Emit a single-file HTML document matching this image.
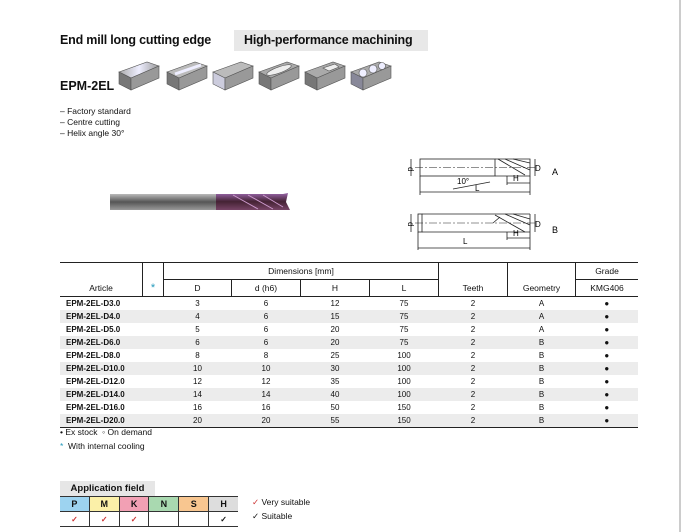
<!DOCTYPE html>
<html><head><meta charset="utf-8"><style>
body{margin:0;width:681px;height:532px;background:#fff;position:relative;overflow:hidden;font-family:"Liberation Sans",sans-serif;color:#111}
.a{position:absolute;white-space:nowrap}
table{position:absolute;left:60px;top:262px;width:578px;border-collapse:collapse;font-size:8px}
td{padding:0;text-align:center;height:13px;line-height:13px}
td.l{text-align:left;padding-left:6px;font-weight:bold}
tr.g td{background:#ececec}
.h td{height:16px;line-height:16px;font-size:8.5px}
.ap td{width:29px;height:14px;border-right:1px solid #333;text-align:center;font-size:9px;font-weight:bold;padding:0}
</style></head><body>
<div style="position:absolute;left:679px;top:0;width:2px;height:532px;background:#ccc"></div>
<div class="a" style="left:60px;top:33px;font-size:12.5px;font-weight:bold;letter-spacing:-0.2px">End mill long cutting edge</div>
<div class="a" style="left:234px;top:30px;width:194px;height:21px;background:#e8e8e8"></div>
<div class="a" style="left:244px;top:33px;font-size:12.5px;font-weight:bold;letter-spacing:-0.2px">High-performance machining</div>
<div class="a" style="left:60px;top:79px;font-size:12.5px;font-weight:bold">EPM-2EL</div>
<svg class="a" style="left:117px;top:58px" width="280" height="36">
<defs><linearGradient id="t" x1="0" x2="1"><stop offset="0" stop-color="#aaa"/><stop offset=".5" stop-color="#eef"/><stop offset="1" stop-color="#999"/></linearGradient></defs>
<g stroke="#555" stroke-width=".6">
<g transform="translate(2,0)"><polygon points="0,14 28,4 40,8 12,20" fill="url(#t)"/><polygon points="0,14 12,20 12,32 0,26" fill="#777"/><polygon points="12,20 40,8 40,20 12,32" fill="#999"/></g>
<g transform="translate(50,0)"><polygon points="0,14 28,4 40,8 12,20" fill="#bbb"/><polygon points="0,14 12,20 12,32 0,26" fill="#777"/><polygon points="12,20 40,8 40,20 12,32" fill="#999"/><path d="M8,16 L34,7" stroke="#eef" stroke-width="3"/></g>
<g transform="translate(96,0)"><polygon points="0,14 28,4 40,8 12,20" fill="#bbb"/><polygon points="0,14 12,20 12,32 0,26" fill="#ccd"/><polygon points="12,20 40,8 40,20 12,32" fill="#999"/></g>
<g transform="translate(142,0)"><polygon points="0,14 28,4 40,8 12,20" fill="#aaa"/><polygon points="0,14 12,20 12,32 0,26" fill="#777"/><polygon points="12,20 40,8 40,20 12,32" fill="#999"/><ellipse cx="20" cy="12" rx="13" ry="3" transform="rotate(-20 20 12)" fill="#eee"/></g>
<g transform="translate(188,0)"><polygon points="0,14 28,4 40,8 12,20" fill="#aaa"/><polygon points="0,14 12,20 12,32 0,26" fill="#777"/><polygon points="12,20 40,8 40,20 12,32" fill="#999"/><polygon points="18,10 30,6 34,9 24,13" fill="#eee"/></g>
<g transform="translate(234,0)"><polygon points="0,14 28,4 40,8 12,20" fill="#aaa"/><polygon points="0,14 12,20 12,32 0,26" fill="#889"/><polygon points="12,20 40,8 40,20 12,32" fill="#999"/><circle cx="12" cy="15" r="4" fill="#eef"/><circle cx="22" cy="11" r="4" fill="#eef"/><circle cx="31" cy="8" r="3.5" fill="#eef"/></g>
</g></svg>
<div class="a" style="left:60px;top:106px;font-size:8.5px;line-height:11px">– Factory standard<br>– Centre cutting<br>– Helix angle 30°</div>
<svg class="a" style="left:108px;top:190px" width="185" height="24">
<defs><linearGradient id="s" x1="0" y1="0" x2="0" y2="1"><stop offset="0" stop-color="#bbb"/><stop offset=".5" stop-color="#555"/><stop offset="1" stop-color="#999"/></linearGradient>
<linearGradient id="c" x1="0" y1="0" x2="0" y2="1"><stop offset="0" stop-color="#96a"/><stop offset=".5" stop-color="#423"/><stop offset="1" stop-color="#746"/></linearGradient></defs>
<rect x="2" y="4" width="108" height="16" fill="url(#s)"/>
<polygon points="108,4 175,4 180,3 178,12 182,20 108,20" fill="url(#c)"/>
<path d="M125,5 L150,19 M140,5 L165,19 M155,5 L175,17" stroke="#c9c" stroke-width="1"/>
</svg>
<svg class="a" style="left:395px;top:145px" width="200" height="110" font-family="Liberation Sans" font-size="8">
<g stroke="#222" stroke-width=".8" fill="none">
<rect x="25" y="14" width="75" height="17"/><path d="M100,14 L135,14 L135,31 L100,31"/>
<path d="M103,14 L130,30 M110,14 L135,25 M118,14 L135,18" />
<path d="M20,22.5 L140,22.5" stroke-dasharray="8,2,2,2" stroke-width=".5"/>
<path d="M16,14 L16,31 M140,14 L140,31"/>
<path d="M25,31 L25,50 M135,31 L135,50 M25,47 L135,47"/>
<path d="M112,31 L112,40 M112,38 L135,38"/><path d="M95,37 L58,44"/>
<rect x="23" y="69" width="4" height="18"/><path d="M27,69 L135,69 M27,87 L135,87 M135,69 L135,87"/>
<path d="M100,70 L130,87 M110,69 L135,80 M118,69 L135,74 M98,78 L105,72"/>
<path d="M20,78 L140,78" stroke-dasharray="8,2,2,2" stroke-width=".5"/>
<path d="M16,69 L16,87 M140,69 L140,87"/>
<path d="M23,87 L23,105 M135,87 L135,105 M23,103 L135,103 M112,87 L112,95 M112,93 L135,93"/>
</g>
<text x="15" y="24" transform="rotate(90 15 22)">d</text><text x="140" y="26">D</text>
<text x="62" y="39">10°</text><text x="80" y="46">L</text><text x="118" y="36">H</text>
<text x="157" y="30" font-size="9">A</text>
<text x="15" y="79" transform="rotate(90 15 77)">d</text><text x="140" y="82">D</text>
<text x="68" y="99">L</text><text x="118" y="91">H</text>
<text x="157" y="88" font-size="9">B</text>
</svg>
<table>
<tr class="h"><td style="border-top:1px solid #222;width:82px"></td><td style="border-top:1px solid #222;border-left:1px solid #222;width:20px"></td><td colspan="4" style="border-top:1px solid #222;border-left:1px solid #222;border-bottom:1px solid #222;border-right:1px solid #222">Dimensions [mm]</td><td style="border-top:1px solid #222;border-right:1px solid #222;width:68px"></td><td style="border-top:1px solid #222;border-right:1px solid #222;width:67px"></td><td style="border-top:1px solid #222;border-bottom:1px solid #222">Grade</td></tr>
<tr class="h" style="border-bottom:1px solid #222"><td>Article</td><td style="border-left:1px solid #222;color:#29b;font-size:11px">*</td><td style="border-left:1px solid #222;border-right:1px solid #222;width:67px">D</td><td style="border-right:1px solid #222;width:68px">d (h6)</td><td style="border-right:1px solid #222;width:68px">H</td><td style="border-right:1px solid #222;width:68px">L</td><td style="border-right:1px solid #222">Teeth</td><td style="border-right:1px solid #222">Geometry</td><td>KMG406</td></tr>
<tr><td class="l">EPM-2EL-D3.0</td><td></td><td>3</td><td>6</td><td>12</td><td>75</td><td>2</td><td>A</td><td>●</td></tr>
<tr class="g"><td class="l">EPM-2EL-D4.0</td><td></td><td>4</td><td>6</td><td>15</td><td>75</td><td>2</td><td>A</td><td>●</td></tr>
<tr><td class="l">EPM-2EL-D5.0</td><td></td><td>5</td><td>6</td><td>20</td><td>75</td><td>2</td><td>A</td><td>●</td></tr>
<tr class="g"><td class="l">EPM-2EL-D6.0</td><td></td><td>6</td><td>6</td><td>20</td><td>75</td><td>2</td><td>B</td><td>●</td></tr>
<tr><td class="l">EPM-2EL-D8.0</td><td></td><td>8</td><td>8</td><td>25</td><td>100</td><td>2</td><td>B</td><td>●</td></tr>
<tr class="g"><td class="l">EPM-2EL-D10.0</td><td></td><td>10</td><td>10</td><td>30</td><td>100</td><td>2</td><td>B</td><td>●</td></tr>
<tr><td class="l">EPM-2EL-D12.0</td><td></td><td>12</td><td>12</td><td>35</td><td>100</td><td>2</td><td>B</td><td>●</td></tr>
<tr class="g"><td class="l">EPM-2EL-D14.0</td><td></td><td>14</td><td>14</td><td>40</td><td>100</td><td>2</td><td>B</td><td>●</td></tr>
<tr><td class="l">EPM-2EL-D16.0</td><td></td><td>16</td><td>16</td><td>50</td><td>150</td><td>2</td><td>B</td><td>●</td></tr>
<tr class="g" style="border-bottom:1px solid #222"><td class="l">EPM-2EL-D20.0</td><td></td><td>20</td><td>20</td><td>55</td><td>150</td><td>2</td><td>B</td><td>●</td></tr>
</table>
<div class="a" style="left:60px;top:427px;font-size:8.5px">• Ex stock &nbsp;◦ On demand</div>
<div class="a" style="left:60px;top:441px;font-size:8.5px"><span style="color:#29b">*</span> &nbsp;With internal cooling</div>
<div class="a" style="left:60px;top:481px;width:95px;height:15px;background:#e6e6e6;font-size:9.5px;font-weight:bold;text-align:center;line-height:15px">Application field</div>
<table class="ap" style="left:60px;top:496px;width:178px;font-size:9px">
<tr style="border-top:1px solid #333;border-bottom:1px solid #333"><td style="background:#9dd3f0">P</td><td style="background:#fbf0a8">M</td><td style="background:#f2a0b4">K</td><td style="background:#a9d9b0">N</td><td style="background:#f8c690">S</td><td style="background:#ddd;border-right:none">H</td></tr>
<tr style="border-bottom:1px solid #333"><td style="color:#c33;font-size:8px">✓</td><td style="color:#c33;font-size:8px">✓</td><td style="color:#c33;font-size:8px">✓</td><td></td><td></td><td style="border-right:none;font-size:8px">✓</td></tr>
</table>
<div class="a" style="left:252px;top:497px;font-size:8.5px"><span style="color:#c33">✓</span> Very suitable</div>
<div class="a" style="left:252px;top:511px;font-size:8.5px">✓ Suitable</div>
</body></html>
